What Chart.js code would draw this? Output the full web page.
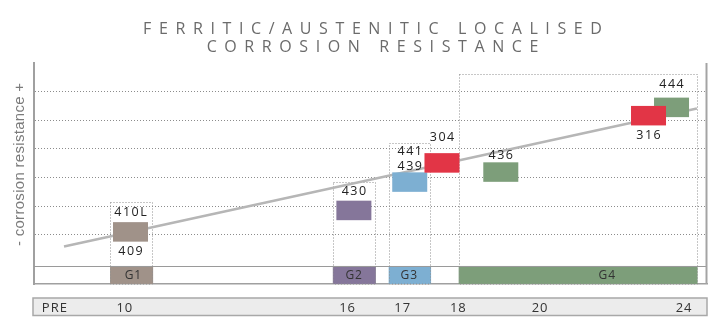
<!DOCTYPE html>
<html><head><meta charset="utf-8">
<script src="https://cdn.jsdelivr.net/npm/chart.js@4"></script>
<style>html,body{margin:0;padding:0;background:#fff}</style>
</head><body>
<canvas id="c" width="719" height="323"></canvas>
<script>
// ---------- text ----------
const titleLines = ['FERRITIC/AUSTENITIC LOCALISED', 'CORROSION RESISTANCE'];
const yAxisTitle = '- corrosion resistance +';

// ---------- PRE axis (bottom row) ----------
const preLabels = ['PRE', '10', '16', '17', '18', '20', '24'];
const prePositions = [3.1, 13.5, 46.6, 54.8, 63.05, 75.2, 96.6];

// ---------- steel groups ----------
const groupNames = ['G1', 'G2', 'G3', 'G4'];
const groupStart = [11.3, 44.4, 52.7, 63.1];
const groupEnd = [17.7, 50.8, 59.0, 98.6];
const groupTop = [2.13, 2.85, 4.19, 6.60];
const groupLabelPos = [14.7, 47.5, 55.7, 85.1];

// ---------- grades (drawing order: austenitic on top) ----------
const grades = ['410L/409', '430', '441/439', '436', '444', '304', '316'];
const gradeFamily = ['G1', 'G2', 'G3', 'G4', 'G4', 'AUS', 'AUS'];
const gradePosition = [14.34, 47.53, 55.83, 69.36, 94.73, 60.62, 91.31];
const gradeResistance = [1.10, 1.85, 2.84, 3.19, 5.45, 3.51, 5.16];
const labelsAbove = [['410L'], ['430'], ['441', '439'], ['436'], ['444'], ['304'], []];
const labelsBelow = [['409'], [], [], [], [], [], ['316']];

// ---------- trend line ----------
const trendPosition = [4.46, 98.5];
const trendResistance = [0.59, 5.41];

const resistanceTicks = [1, 2, 3, 4, 5, 6];
const bandTop = -0.09;

// ---------- styles ----------
const COLORS = { G1: '#a09289', G2: '#85769a', G3: '#7dafd2', G4: '#7d9e7a', AUS: '#e23546' };
const SW_W = 35, SW_H = 19.5;
const aboveGap = [9.6, 9.3, 6, 6.6, 13.3, 16, 0];
const belowGap = [9.3, 0, 0, 0, 0, 0, 9.6];
const FONT = '"Open Sans", "DejaVu Sans", sans-serif';

function txt(ctx, s, x, y, font, color, ls, align) {
  ctx.save();
  ctx.font = font;
  ctx.fillStyle = color;
  ctx.letterSpacing = ls + 'px';
  ctx.textAlign = align || 'center';
  ctx.textBaseline = 'middle';
  const dx = (align === 'left') ? 0 : ls / 2;
  ctx.fillText(s, x + dx, y);
  ctx.restore();
}

const deco = {
  id: 'deco',
  beforeDraw(chart) {
    const ctx = chart.ctx, a = chart.chartArea;
    // PRE row box
    ctx.save();
    ctx.fillStyle = '#ececec';
    ctx.fillRect(a.left - 1, a.bottom + 14, a.right - a.left + 1, 17.5);
    ctx.strokeStyle = '#a8a8a8';
    ctx.lineWidth = 1.5;
    ctx.strokeRect(a.left - 1, a.bottom + 14, a.right - a.left + 1, 17.5);
    ctx.restore();
    // title
    const cx = 372.5;
    txt(ctx, titleLines[0], cx, 29.5, '16px ' + FONT, '#6b6b6b', 7.6);
    txt(ctx, titleLines[1], cx, 47.2, '16px ' + FONT, '#6b6b6b', 7.6);
    // y axis title
    ctx.save();
    ctx.translate(19.5, 164.5);
    ctx.rotate(-Math.PI / 2);
    txt(ctx, yAxisTitle, 0, 0, '15px "Liberation Sans Narrow", sans-serif', '#7b7b7b', 0.3);
    ctx.restore();
    ctx.letterSpacing = '1px';
  },
  beforeDatasetsDraw(chart) {
    const ctx = chart.ctx, a = chart.chartArea;
    const xs = chart.scales.x, ys = chart.scales.y;
    ctx.letterSpacing = '0px';
    const yTop = ys.getPixelForValue(bandTop), yBot = a.bottom;
    // group bands
    groupNames.forEach((g, i) => {
      const x0 = xs.getPixelForValue(groupStart[i]), x1 = xs.getPixelForValue(groupEnd[i]);
      ctx.fillStyle = COLORS[g];
      ctx.fillRect(x0, yTop, x1 - x0, yBot - yTop);
    });
    // band top solid line
    ctx.save();
    ctx.strokeStyle = '#9a9a9a';
    ctx.lineWidth = 1;
    ctx.beginPath();
    ctx.moveTo(a.left, Math.round(yTop) + 0.5);
    ctx.lineTo(a.right, Math.round(yTop) + 0.5);
    ctx.stroke();
    // dotted group boxes
    ctx.strokeStyle = '#8e8e8e';
    ctx.setLineDash([1, 2]);
    groupNames.forEach((g, i) => {
      const x0 = Math.round(xs.getPixelForValue(groupStart[i])) + 0.5;
      const x1 = Math.round(xs.getPixelForValue(groupEnd[i])) - 0.5;
      const t = Math.round(ys.getPixelForValue(groupTop[i])) + 0.5;
      ctx.strokeRect(x0, t, x1 - x0, yBot - t);
    });
    ctx.restore();
    // right border
    ctx.save();
    ctx.strokeStyle = '#a4a4a4';
    ctx.lineWidth = 2;
    ctx.beginPath();
    ctx.moveTo(a.right - 0.5, a.top);
    ctx.lineTo(a.right - 0.5, a.bottom);
    ctx.stroke();
    ctx.restore();
    // group labels
    groupNames.forEach((g, i) => {
      txt(ctx, g, xs.getPixelForValue(groupLabelPos[i]), (yTop + yBot) / 2 + 0.5, '12px ' + FONT, '#333', 1);
    });
  },
  afterDatasetsDraw(chart) {
    const ctx = chart.ctx;
    const xs = chart.scales.x, ys = chart.scales.y;
    grades.forEach((g, i) => {
      const cx = xs.getPixelForValue(gradePosition[i]);
      const cy = ys.getPixelForValue(gradeResistance[i]);
      ctx.fillStyle = COLORS[gradeFamily[i]];
      ctx.fillRect(cx - SW_W / 2, cy - SW_H / 2, SW_W, SW_H);
      const above = labelsAbove[i];
      above.forEach((s, k) => {
        const ly = cy - SW_H / 2 - aboveGap[i] - (above.length - 1 - k) * 14.5;
        txt(ctx, s, cx, ly, '12.5px ' + FONT, '#222', 1.5);
      });
      labelsBelow[i].forEach((s, k) => {
        const ly = cy + SW_H / 2 + belowGap[i] + k * 14.5;
        txt(ctx, s, cx, ly, '12.5px ' + FONT, '#222', 1.5);
      });
    });
  }
};

new Chart(document.getElementById('c'), {
  type: 'scatter',
  data: {
    datasets: [{
      data: trendPosition.map((x, i) => ({ x, y: trendResistance[i] })),
      showLine: true,
      borderColor: '#b6b6b6',
      borderWidth: 2.5,
      pointRadius: 0,
      fill: false
    }]
  },
  options: {
    responsive: false,
    animation: false,
    devicePixelRatio: 1,
    layout: { padding: { top: 63, right: 12, bottom: 0, left: 0 } },
    plugins: { legend: { display: false }, tooltip: { enabled: false }, title: { display: false } },
    scales: {
      x: {
        type: 'linear', min: 0, max: 100, position: 'bottom',
        grid: { display: false, drawTicks: false, tickLength: 0 },
        border: { display: true, color: '#a0a0a0', width: 1.5 },
        ticks: {
          autoSkip: false, maxRotation: 0, minRotation: 0, padding: 16,
          color: '#333', font: { family: FONT, size: 13 },
          callback: (v, i) => preLabels[i]
        },
        afterBuildTicks: s => { s.ticks = prePositions.map(v => ({ value: v })); },
        afterFit: s => { s.height = 39; }
      },
      y: {
        type: 'linear', min: -0.72, max: 7,
        grid: { color: '#8c8c8c', lineWidth: 1, drawTicks: false },
        border: { display: true, color: '#a0a0a0', width: 2, dash: [1, 2] },
        ticks: { display: false },
        afterBuildTicks: s => { s.ticks = resistanceTicks.map(v => ({ value: v })); },
        afterFit: s => { s.width = 34; }
      }
    }
  },
  plugins: [deco]
});
</script>
</body></html>
